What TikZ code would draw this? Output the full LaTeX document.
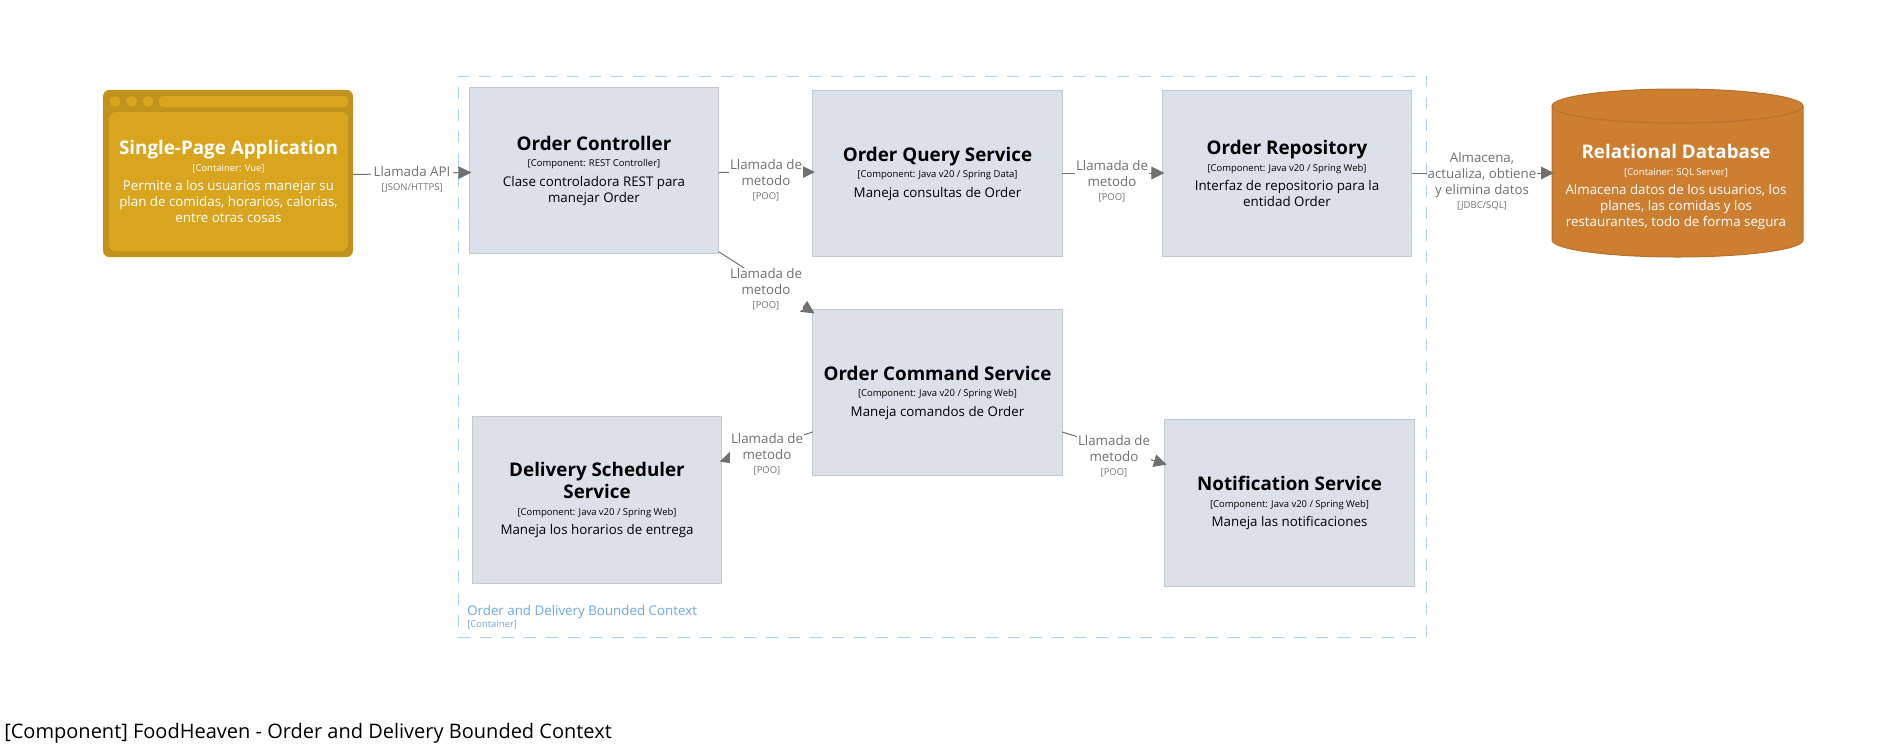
\documentclass[tikz,border=0pt]{standalone}
\usepackage{fontspec}
\setmainfont{Open Sans}
\usetikzlibrary{arrows.meta}
\definecolor{compfill}{HTML}{DAE1E8}
\definecolor{compline}{HTML}{C2CAD1}
\definecolor{spaouter}{HTML}{C1921C}
\definecolor{spainner}{HTML}{D9A51F}
\definecolor{dbfill}{HTML}{CC7E31}
\definecolor{dbline}{HTML}{B8712B}
\definecolor{edgegray}{HTML}{707070}
\definecolor{bndline}{HTML}{AAD4EE}
\definecolor{bndtext}{HTML}{6FA8DC}
\newcommand{\cleanc}{\centering\spaceskip=0pt\xspaceskip=0pt }
\newcommand{\nameline}[1]{{\cleanc\fontsize{14.1}{16.5}\selectfont\bfseries #1\par}}
\newcommand{\tagline}[1]{{\cleanc\fontsize{7.1}{12.4}\selectfont #1\par}}
\newcommand{\descline}[1]{\vspace{2.6pt}{\cleanc\fontsize{10}{12}\selectfont #1\par}}
\newcommand{\edgetext}[1]{{\cleanc\fontsize{10}{12}\selectfont #1\par}}
\newcommand{\edgetag}[1]{{\cleanc\fontsize{7.1}{10.5}\selectfont #1\par}}
\tikzset{
  x=0.75pt,y=-0.75pt,
  compbox/.style={draw=compline,fill=compfill,line width=0.75pt,minimum width=187pt,minimum height=124.75pt,inner sep=0pt,outer sep=0pt,text width=180pt,align=center,text=black},
  spabox/.style={draw=none,fill=spaouter,rounded corners=5pt,minimum width=187.5pt,minimum height=125.5pt,inner sep=0pt,outer sep=0pt},
  spainnerbox/.style={fill=spainner,rounded corners=4pt,minimum width=179pt,minimum height=104pt,inner sep=0pt,outer sep=0pt,text width=175pt,align=center,text=white},
  dbbox/.style={minimum width=188.25pt,minimum height=126pt,inner sep=0pt,outer sep=0pt},
  dbtextbox/.style={inner sep=0pt,text width=180pt,align=center,text=white},
  conn/.style={draw=edgegray,line width=0.75pt,-{Triangle[length=9.75pt,width=9.5pt,fill=edgegray]},shorten >=-1.5pt},
  edgelabel/.style={fill=white,inner xsep=0.5pt,inner ysep=0pt,text width=#1,align=center,text=edgegray},
  edgelabel/.default=54pt,
  boundary/.style={draw=bndline,line width=0.75pt,dash pattern=on 9pt off 7.5pt},
}
\begin{document}
\begin{tikzpicture}
\useasboundingbox (0,0) rectangle (1895,747);
\fill[white] (0,0) rectangle (1895,747);
% boundary
\node[boundary,minimum width=726pt,minimum height=420.75pt,outer sep=0pt,inner sep=0pt] (bnd) at (942,356.5) {};
\node[anchor=west,inner sep=0pt,text=bndtext,font=\fontsize{10}{12}\selectfont] (bndname) at (467,612) {Order and Delivery Bounded Context};
\node[anchor=west,inner sep=0pt,text=bndtext,font=\fontsize{7.1}{9}\selectfont] (bndtag) at (467,625) {[Container]};
% SPA
\node[spabox] (spa) at (228,173.5) {};
\node[spainnerbox] (spatext) at (228.5,181.5) {\nameline{Single-Page Application}\tagline{[Container: Vue]}\descline{Permite a los usuarios manejar su\\plan de comidas, horarios, calorias,\\entre otras cosas}};
\fill[spainner,rounded corners=3pt] (159,96) rectangle (348,107);
\fill[spainner] (115,101.5) circle (5.5);
\fill[spainner] (131.5,101.5) circle (5.5);
\fill[spainner] (148,101.5) circle (5.5);
% components
\node[compbox] (oc) at (594,170.5) {\nameline{Order Controller}\tagline{[Component: REST Controller]}\descline{Clase controladora REST para\\manejar Order}};
\node[compbox] (oqs) at (937.5,173.5) {\nameline{Order Query Service}\tagline{[Component: Java v20 / Spring Data]}\descline{Maneja consultas de Order}};
\node[compbox] (repo) at (1287,173.5) {\nameline{Order Repository}\tagline{[Component: Java v20 / Spring Web]}\descline{Interfaz de repositorio para la\\entidad Order}};
\node[compbox] (ocs) at (937.5,392.5) {\nameline{Order Command Service}\tagline{[Component: Java v20 / Spring Web]}\descline{Maneja comandos de Order}};
\node[compbox] (dss) at (597,500) {\nameline{Delivery Scheduler\\Service}\tagline{[Component: Java v20 / Spring Web]}\descline{Maneja los horarios de entrega}};
\node[compbox] (ns) at (1289.5,503) {\nameline{Notification Service}\tagline{[Component: Java v20 / Spring Web]}\descline{Maneja las notificaciones}};
% database
\node[dbbox] (db) at (1677.5,173) {};
\fill[dbfill,draw=dbline,line width=0.75pt] (1552,106) arc[start angle=180,end angle=360,x radius=125.5,y radius=17] -- (1803,240) arc[start angle=0,end angle=180,x radius=125.5,y radius=17] -- cycle;
\draw[dbline,line width=0.75pt] (1552,106) arc[start angle=180,end angle=0,x radius=125.5,y radius=17];
\node[dbtextbox] (dbtext) at (1676,187) {\nameline{Relational Database}\tagline{[Container: SQL Server]}\descline{Almacena datos de los usuarios, los\\planes, las comidas y los\\restaurantes, todo de forma segura}};
% connectors
\draw[conn] ([yshift=-0.75pt]spa.east) -- ([yshift=-1.5pt]oc.west);
\draw[conn] ([yshift=-1.5pt]oc.east) -- ([yshift=1.1pt]oqs.west);
\draw[conn] ([yshift=0.375pt]oqs.east) -- ([yshift=0.375pt]repo.west);
\draw[conn] ([yshift=0.375pt]repo.east) -- (db.west);
\draw[conn] ([yshift=1.5pt]oc.south east) -- ([yshift=-2.25pt]ocs.north west);
\draw[conn] ([yshift=-29.6pt]ocs.west) -- ([yshift=29.25pt]dss.east);
\draw[conn] ([yshift=-29.6pt]ocs.east) -- ([yshift=29.25pt]ns.west);
% labels
\node[edgelabel=58pt,inner xsep=2pt] (l1) at (412,179) {\edgetext{Llamada API}\edgetag{[JSON/HTTPS]}};
\node[edgelabel] (l2) at (766,180.5) {\edgetext{Llamada de\\metodo}\edgetag{[POO]}};
\node[edgelabel] (l3) at (1112,181.5) {\edgetext{Llamada de\\metodo}\edgetag{[POO]}};
\node[edgelabel=82pt] (l4) at (1482,181) {\edgetext{Almacena,\\actualiza, obtiene\\y elimina datos}\edgetag{[JDBC/SQL]}};
\node[edgelabel] (l5) at (766,289) {\edgetext{Llamada de\\metodo}\edgetag{[POO]}};
\node[edgelabel] (l6) at (767,454.5) {\edgetext{Llamada de\\metodo}\edgetag{[POO]}};
\node[edgelabel] (l7) at (1114,456.5) {\edgetext{Llamada de\\metodo}\edgetag{[POO]}};
% caption
\node[anchor=west,inner sep=0pt,text=black,font=\fontsize{15}{18}\selectfont] (cap) at (4,733) {[Component] FoodHeaven - Order and Delivery Bounded Context};
\end{tikzpicture}
\end{document}
